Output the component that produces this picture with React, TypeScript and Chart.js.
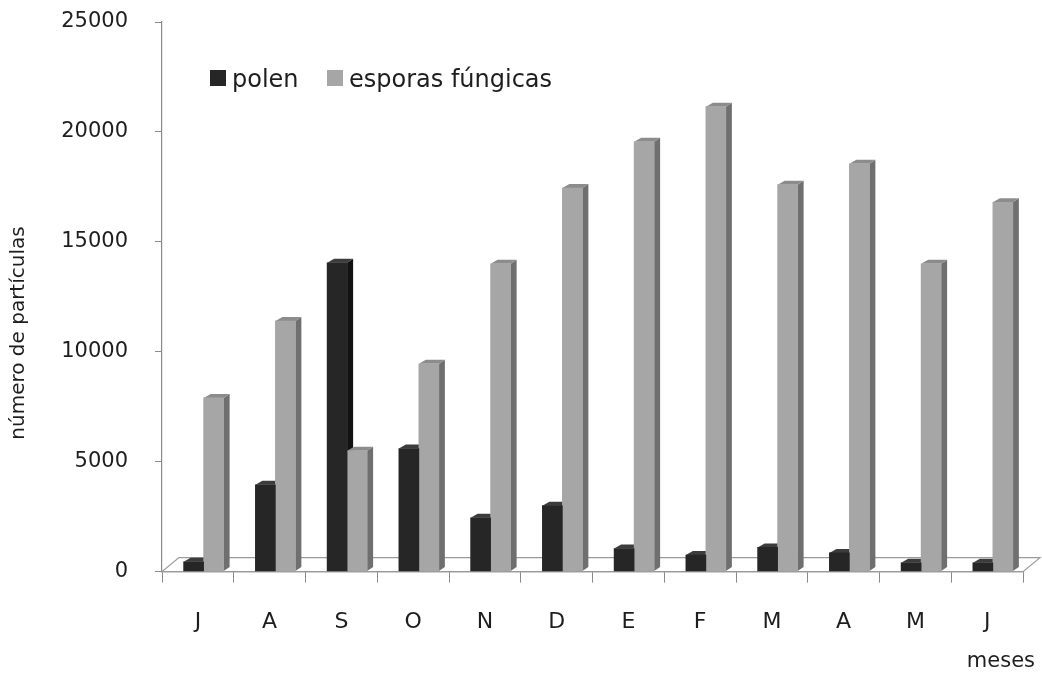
import React, { useEffect, useRef } from "react";
import { Chart, registerables } from "chart.js";

Chart.register(...registerables);

// Monthly counts of airborne particles (July to June)
const months = ["J", "A", "S", "O", "N", "D", "E", "F", "M", "A", "M", "J"];
const polen = [450, 3950, 14050, 5600, 2450, 3000, 1050, 750, 1100, 850, 400, 400];
const esporas = [7900, 11400, 5500, 9450, 14000, 17450, 19550, 21150, 17600, 18550, 14000, 16800];
const yTicks = [0, 5000, 10000, 15000, 20000, 25000];
const seriesNames = ["polen", "esporas fúngicas"];
const yTitle = "número de partículas";
const xTitle = "meses";

const FONT = "'DejaVu Sans', 'Open Sans', sans-serif";
const TEXT = "#1e1e1e";
const AXIS = "#8a8a8a";

// face colours per series: front, side, top
const FRONT = ["#262626", "#a6a6a6"];
const SIDE = ["#121212", "#6f6f6f"];
const TOP = ["#3c3c3c", "#8c8c8c"];

// 3D depth of a column and of the floor
const DX = 6;
const DY = 4;
const FLOOR_DX = 17;
const FLOOR_DY = 14;
// columns sit slightly right of each category centre (perspective shift)
const DEPTH_SHIFT = 0.08;

const depthPlugin = {
  id: "depth3d",
  beforeDatasetsDraw(chart: any) {
    const { ctx, chartArea: a } = chart;
    ctx.save();
    // floor
    ctx.beginPath();
    ctx.moveTo(a.left, a.bottom);
    ctx.lineTo(a.right, a.bottom);
    ctx.lineTo(a.right + FLOOR_DX, a.bottom - FLOOR_DY);
    ctx.lineTo(a.left + FLOOR_DX, a.bottom - FLOOR_DY);
    ctx.closePath();
    ctx.fillStyle = "#ffffff";
    ctx.fill();
    ctx.strokeStyle = "#9a9a9a";
    ctx.lineWidth = 1.2;
    ctx.stroke();

    // side and top faces, drawn beneath the front faces
    const metas = chart.data.datasets.map((_: any, i: number) => chart.getDatasetMeta(i));
    for (let c = 0; c < months.length; c++) {
      metas.forEach((meta: any, d: number) => {
        const el = meta.data[c];
        if (!el) return;
        const { x, y, base, width } = el.getProps(["x", "y", "base", "width"], true);
        const x0 = x - width / 2;
        const x1 = x + width / 2;
        ctx.beginPath();
        ctx.moveTo(x1, y);
        ctx.lineTo(x1 + DX, y - DY);
        ctx.lineTo(x1 + DX, base - DY);
        ctx.lineTo(x1, base);
        ctx.closePath();
        ctx.fillStyle = SIDE[d];
        ctx.fill();
        ctx.beginPath();
        ctx.moveTo(x0, y);
        ctx.lineTo(x1, y);
        ctx.lineTo(x1 + DX, y - DY);
        ctx.lineTo(x0 + DX + 1, y - DY);
        ctx.closePath();
        ctx.fillStyle = TOP[d];
        ctx.fill();
      });
    }
    ctx.restore();
  },
  afterDraw(chart: any) {
    const { ctx } = chart;
    ctx.save();
    ctx.fillStyle = TEXT;

    // legend inside the plot
    const legendX = [210, 327];
    ctx.font = `24px ${FONT}`;
    ctx.textBaseline = "alphabetic";
    ctx.textAlign = "left";
    chart.data.datasets.forEach((ds: any, i: number) => {
      ctx.fillStyle = ds.backgroundColor;
      ctx.fillRect(legendX[i], 70, 16, 16);
      ctx.fillStyle = TEXT;
      ctx.fillText(ds.label, legendX[i] + 22, 87);
    });

    // y axis title
    ctx.save();
    ctx.translate(19, 333);
    ctx.rotate(-Math.PI / 2);
    ctx.font = `20px ${FONT}`;
    ctx.textAlign = "center";
    ctx.textBaseline = "middle";
    ctx.fillText(yTitle, 0, 0);
    ctx.restore();

    // x axis title
    ctx.font = `21px ${FONT}`;
    ctx.textAlign = "right";
    ctx.textBaseline = "middle";
    ctx.fillText(xTitle, 1035, 662);
    ctx.restore();
  },
};

export default function App() {
  const ref = useRef<HTMLCanvasElement>(null);

  useEffect(() => {
    const canvas = ref.current;
    if (!canvas) return;
    const chart = new Chart(canvas, {
      type: "bar",
      data: {
        labels: months,
        datasets: [
          {
            label: seriesNames[0],
            data: polen.map((v, i) => ({ x: i + DEPTH_SHIFT, y: v })),
            backgroundColor: FRONT[0],
            borderWidth: 0,
            barThickness: 20,
            xAxisID: "xb",
            yAxisID: "y",
          },
          {
            label: seriesNames[1],
            data: esporas.map((v, i) => ({ x: i + DEPTH_SHIFT, y: v })),
            backgroundColor: FRONT[1],
            borderWidth: 0,
            barThickness: 20,
            xAxisID: "xb",
            yAxisID: "y",
          },
        ],
      },
      options: {
        animation: false,
        responsive: true,
        maintainAspectRatio: false,
        events: [],
        layout: { padding: { left: 0, right: 19, top: 22, bottom: 15 } },
        plugins: {
          legend: { display: false },
          tooltip: { enabled: false },
          title: { display: false },
        },
        scales: {
          x: {
            type: "category",
            offset: true,
            grid: {
              offset: true,
              drawOnChartArea: false,
              drawTicks: true,
              tickLength: 11,
              color: AXIS,
              lineWidth: 1,
            },
            border: { display: true, color: AXIS, width: 1.2 },
            ticks: {
              color: TEXT,
              font: { family: FONT, size: 22 },
              padding: 26,
              maxRotation: 0,
              autoSkip: false,
            },
          },
          xb: {
            type: "linear",
            display: false,
            min: -0.5,
            max: 11.5,
            offset: false,
          },
          y: {
            type: "linear",
            min: 0,
            max: 25000,
            afterBuildTicks: (scale: any) => {
              scale.ticks = yTicks.map((v) => ({ value: v }));
            },
            afterFit: (scale: any) => {
              scale.width = 162;
              scale.paddingTop = 0;
              scale.paddingBottom = 0;
            },
            grid: {
              drawOnChartArea: false,
              drawTicks: true,
              tickLength: 7,
              color: AXIS,
            },
            border: { display: true, color: AXIS, width: 1.2 },
            ticks: {
              color: TEXT,
              font: { family: FONT, size: 21 },
              padding: 27,
              callback: (v: any) => String(v),
            },
          },
        },
      },
      plugins: [depthPlugin],
    });
    return () => chart.destroy();
  }, []);

  return (
    <div style={{ position: "absolute", left: 0, top: 0, width: 1042, height: 676 }}>
      <canvas ref={ref} />
    </div>
  );
}
